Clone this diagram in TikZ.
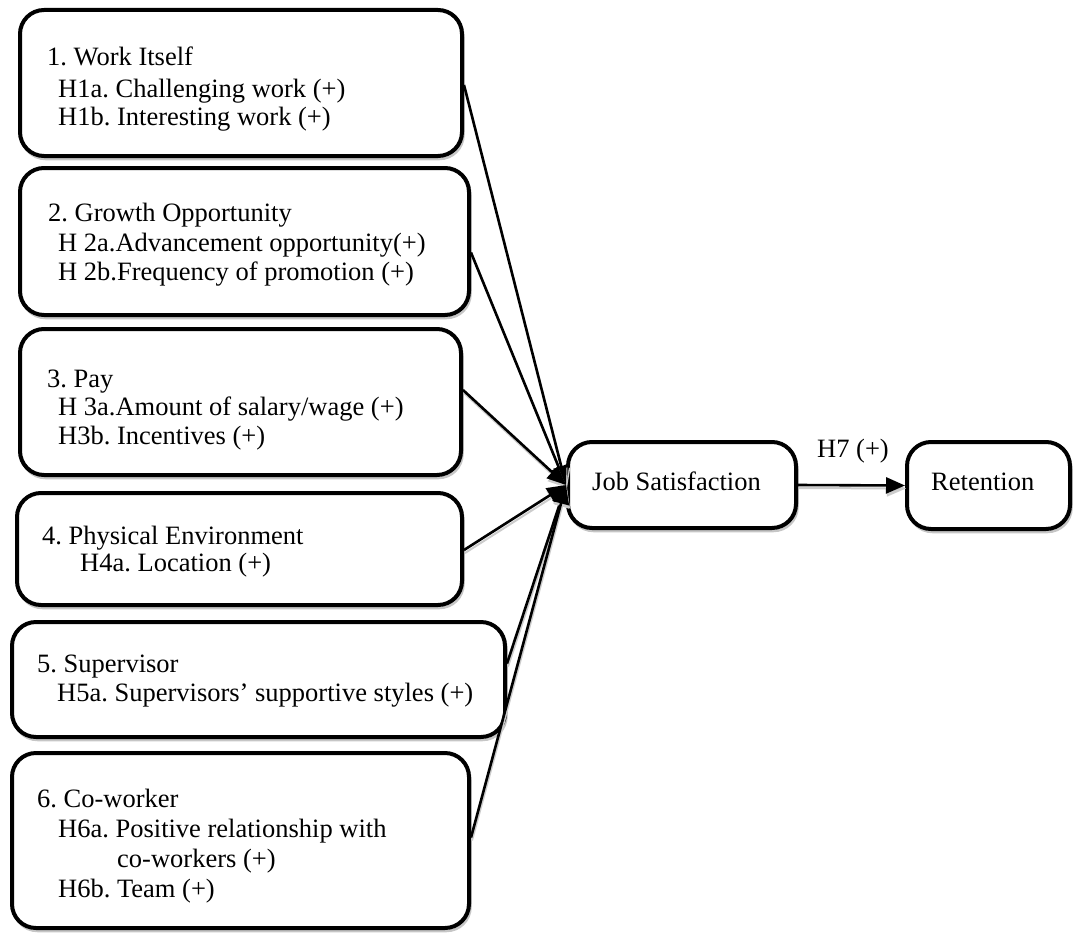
\documentclass[tikz,border=0pt]{standalone}
\usepackage{fontspec}
\setmainfont{Liberation Serif}
\usetikzlibrary{arrows.meta,shadows,calc}
\frenchspacing
\begin{document}
\begin{tikzpicture}[x=1pt,y=-1pt,
  box/.style={draw, line width=4pt, rounded corners=24pt, fill=white, inner sep=0pt,
    drop shadow={fill=none, draw=gray!45, line width=2.5pt, shadow xshift=1.5pt, shadow yshift=-3pt, opacity=1}},
  lbl/.style={anchor=base west, inner sep=0pt, font=\fontsize{26.5}{31}\selectfont},
  link/.style={line width=2.6pt, -{Triangle[length=19pt,width=16pt]},
    preaction={draw=gray!40, line width=2pt, transform canvas={shift={(1pt,-3pt)}}}}]
\useasboundingbox (0,0) rectangle (1075,934);

% factor boxes
\node[box, minimum width=442pt, minimum height=146pt] (b1) at (241,83) {};
\node[box, minimum width=449pt, minimum height=147pt] (b2) at (244.5,241.5) {};
\node[box, minimum width=441pt, minimum height=146pt] (b3) at (240.5,402) {};
\node[box, minimum width=445pt, minimum height=112pt] (b4) at (239.5,549) {};
\node[box, minimum width=493pt, minimum height=115pt] (b5) at (258.5,679.5) {};
\node[box, minimum width=457pt, minimum height=175pt] (b6) at (240.5,840.5) {};

% outcome boxes
\node[box, minimum width=228pt, minimum height=86pt] (js) at (682,485) {};
\node[box, minimum width=163pt, minimum height=87pt] (ret) at (988.5,485.5) {};

% box texts
\node[lbl] (t1)  at (47,66)  {1. Work Itself};
\node[lbl] (t1a) at (58,97)  {H1a. Challenging work (+)};
\node[lbl] (t1b) at (58,125) {H1b. Interesting work (+)};

\node[lbl] (t2)  at (48,221) {2. Growth Opportunity};
\node[lbl] (t2a) at (58,251) {H 2a.Advancement opportunity(+)};
\node[lbl] (t2b) at (58,280) {H 2b.Frequency of promotion (+)};

\node[lbl] (t3)  at (47,387) {3. Pay};
\node[lbl] (t3a) at (58,415) {H 3a.Amount of salary/wage (+)};
\node[lbl] (t3b) at (58,444) {H3b. Incentives (+)};

\node[lbl] (t4)  at (42,544) {4. Physical Environment};
\node[lbl] (t4a) at (80,571) {H4a. Location (+)};

\node[lbl] (t5)  at (37,672) {5. Supervisor};
\node[lbl] (t5a) at (57,701) {H5a. Supervisors’ supportive styles (+)};

\node[lbl] (t6)  at (37,807) {6. Co-worker};
\node[lbl] (t6a) at (58,837) {H6a. Positive relationship with};
\node[lbl] (t6c) at (117,867) {co-workers (+)};
\node[lbl] (t6b) at (58,897) {H6b. Team (+)};

\node[lbl] (tjs)  at (592,490) {Job Satisfaction};
\node[lbl] (tret) at (931,490) {Retention};
\node[lbl] (h7)   at (817,457) {H7 (+)};

% connectors into job satisfaction
\draw[link] ($(b1.east)+(0,2)$)   -- (js.west);
\draw[link] ($(b2.east)+(0,11)$)  -- (js.west);
\draw[link] ($(b3.east)+(0,-12)$) -- (js.west);
\draw[link] ($(b4.east)+(0,1)$)   -- (js.west);
\draw[link] ($(b5.east)+(0,-16)$) -- (js.west);
\draw[link] ($(b6.east)+(0,-3)$)  -- (js.west);

% job satisfaction to retention
\draw[link] (js.east) -- (ret.west);
\end{tikzpicture}
\end{document}
